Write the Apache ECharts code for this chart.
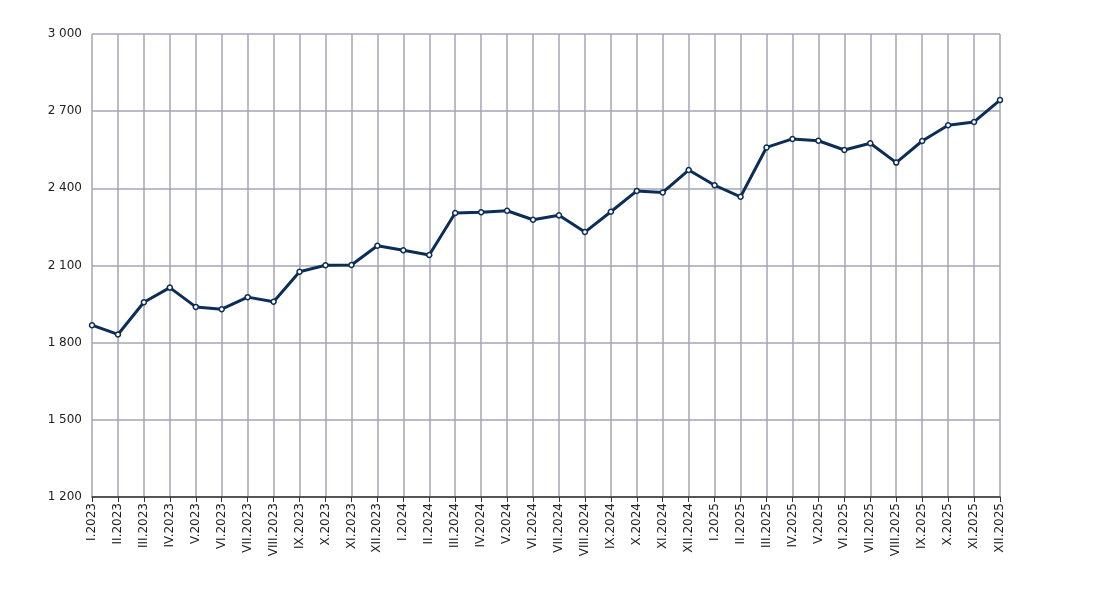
<!DOCTYPE html>
<html>
<head>
<meta charset="utf-8" />
<script src="https://cdn.jsdelivr.net/npm/echarts@6/dist/echarts.min.js"></script>
<style>
  html, body { margin: 0; padding: 0; background: #fff; }
  #chart { width: 1100px; height: 607px; }
</style>
</head>
<body>
<div id="chart"></div>
<script>
const months = ['I', 'II', 'III', 'IV', 'V', 'VI', 'VII', 'VIII', 'IX', 'X', 'XI', 'XII'];
const years = ['2023', '2024', '2025'];
const categories = [];
years.forEach(y => months.forEach(m => categories.push(m + '.' + y)));

const values = [
  1868, 1832, 1957, 2014, 1939, 1930, 1977, 1959, 2076, 2101, 2102, 2177,
  2159, 2141, 2304, 2307, 2313, 2278, 2295, 2230, 2309, 2390, 2384, 2471,
  2412, 2367, 2559, 2592, 2585, 2549, 2575, 2500, 2584, 2645, 2658, 2743
];

const yMin = 1200;
const yMax = 3000;
const yStep = 300;

const fmt = v => String(v).replace(/\B(?=(\d{3})+(?!\d))/g, ' ');

const chart = echarts.init(document.getElementById('chart'));
chart.setOption({
  animation: false,
  textStyle: { fontFamily: 'DejaVu Sans' },
  grid: { left: 92, right: 100, top: 34, bottom: 110 },
  xAxis: {
    type: 'category',
    data: categories,
    boundaryGap: false,
    axisLine: { lineStyle: { color: '#333', width: 1.5 } },
    axisTick: { alignWithLabel: true, length: 5, lineStyle: { color: '#333' } },
    axisLabel: { rotate: 90, interval: 0, color: '#222', fontSize: 12, margin: 6 },
    splitLine: { show: true, lineStyle: { color: '#a3a6b4', width: 1.5 } }
  },
  yAxis: {
    type: 'value',
    min: yMin,
    max: yMax,
    interval: yStep,
    axisLine: { show: false },
    axisTick: { show: false },
    axisLabel: { color: '#222', fontSize: 12, margin: 10, formatter: fmt },
    splitLine: { lineStyle: { color: '#a3a6b4', width: 1.5 } }
  },
  series: [{
    type: 'line',
    data: values,
    symbol: 'circle',
    symbolSize: 5,
    lineStyle: { color: '#0c2d57', width: 3 },
    itemStyle: { color: '#fff', borderColor: '#0c2d57', borderWidth: 1.5 }
  }]
});
</script>
</body>
</html>
